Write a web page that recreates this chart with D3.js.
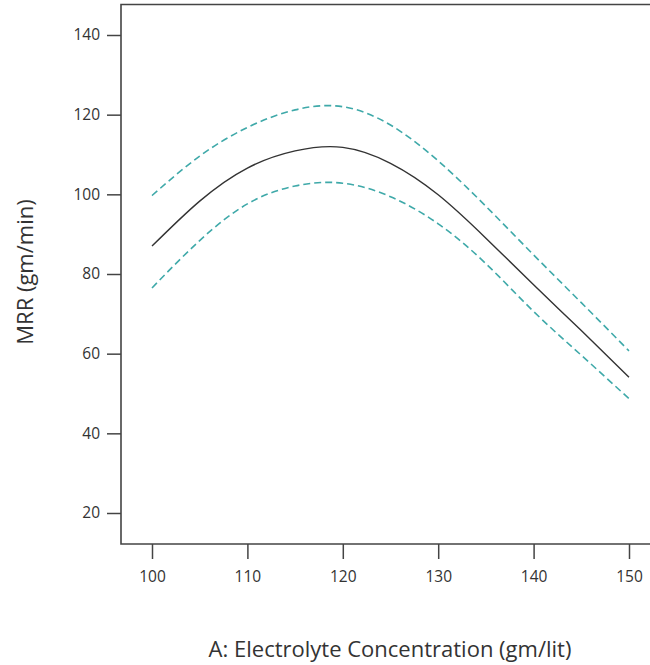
<!DOCTYPE html>
<html>
<head>
<meta charset="utf-8">
<script src="https://cdn.jsdelivr.net/npm/d3@7"></script>
<style>
body { margin: 0; background: #fff; }
text { font-family: "Open Sans", "Noto Sans", sans-serif; fill: #333; }
</style>
</head>
<body>
<script>
// electrolyte concentration (gm/lit)
var conc = [100, 105, 110, 115, 120, 125, 130, 135, 140, 145, 150];
var mrr = [87.0, 98.3, 106.6, 110.9, 111.8, 107.8, 99.9, 89.0, 77.3, 65.8, 54.1];
var upper = [99.7, 109.6, 116.8, 121.2, 122.0, 117.4, 108.4, 97.0, 84.8, 72.8, 60.7];
var lower = [76.5, 88.4, 97.6, 102.1, 102.8, 99.4, 92.6, 82.6, 70.6, 59.6, 48.7];
var xTicks = [100, 110, 120, 130, 140, 150];
var yTicks = [20, 40, 60, 80, 100, 120, 140];

var width = 650, height = 665;
var frameLeft = 121, frameTop = 4.5, frameBottom = 544;

var svg = d3.select("body").append("svg")
	.attr("width", width)
	.attr("height", height);

var x = d3.scaleLinear().domain([100, 150]).range([152, 629]);
var y = d3.scaleLinear().domain([20, 140]).range([513, 35]);

// frame (right side runs off the picture)
svg.append("path")
	.attr("d", "M" + (width + 5) + "," + frameTop + "H" + frameLeft + "V" + frameBottom + "H" + (width + 5))
	.attr("fill", "none")
	.attr("stroke", "#444")
	.attr("stroke-width", 1.6);

var yAxis = svg.append("g")
	.attr("transform", "translate(" + frameLeft + ",0)")
	.call(d3.axisLeft(y).tickValues(yTicks).tickSize(14).tickPadding(7).tickSizeOuter(0));
yAxis.select(".domain").remove();

var xAxis = svg.append("g")
	.attr("transform", "translate(0," + frameBottom + ")")
	.call(d3.axisBottom(x).tickValues(xTicks).tickSize(15).tickPadding(12).tickSizeOuter(0));
xAxis.select(".domain").remove();

svg.selectAll(".tick line").attr("stroke", "#444").attr("stroke-width", 1.5);
svg.selectAll(".tick text")
	.style("font-family", "'Open Sans', 'Noto Sans', sans-serif")
	.style("font-size", "15.5px")
	.style("fill", "#333");

function series(vals) {
	return conc.map(function(c, i) { return [c, vals[i]]; });
}

var line = d3.line()
	.x(function(d) { return x(d[0]); })
	.y(function(d) { return y(d[1]); })
	.curve(d3.curveNatural);

svg.append("path")
	.attr("d", line(series(upper)))
	.attr("fill", "none")
	.attr("stroke", "#3fa9a9")
	.attr("stroke-width", 1.6)
	.attr("stroke-dasharray", "7,4");

svg.append("path")
	.attr("d", line(series(lower)))
	.attr("fill", "none")
	.attr("stroke", "#3fa9a9")
	.attr("stroke-width", 1.6)
	.attr("stroke-dasharray", "7,4");

svg.append("path")
	.attr("d", line(series(mrr)))
	.attr("fill", "none")
	.attr("stroke", "#333")
	.attr("stroke-width", 1.4);

svg.append("text")
	.attr("x", 390)
	.attr("y", 657)
	.attr("text-anchor", "middle")
	.attr("font-size", "22px")
	.text("A: Electrolyte Concentration (gm/lit)");

svg.append("text")
	.attr("transform", "translate(33,272) rotate(-90)")
	.attr("text-anchor", "middle")
	.attr("font-size", "22px")
	.text("MRR (gm/min)");
</script>
</body>
</html>
